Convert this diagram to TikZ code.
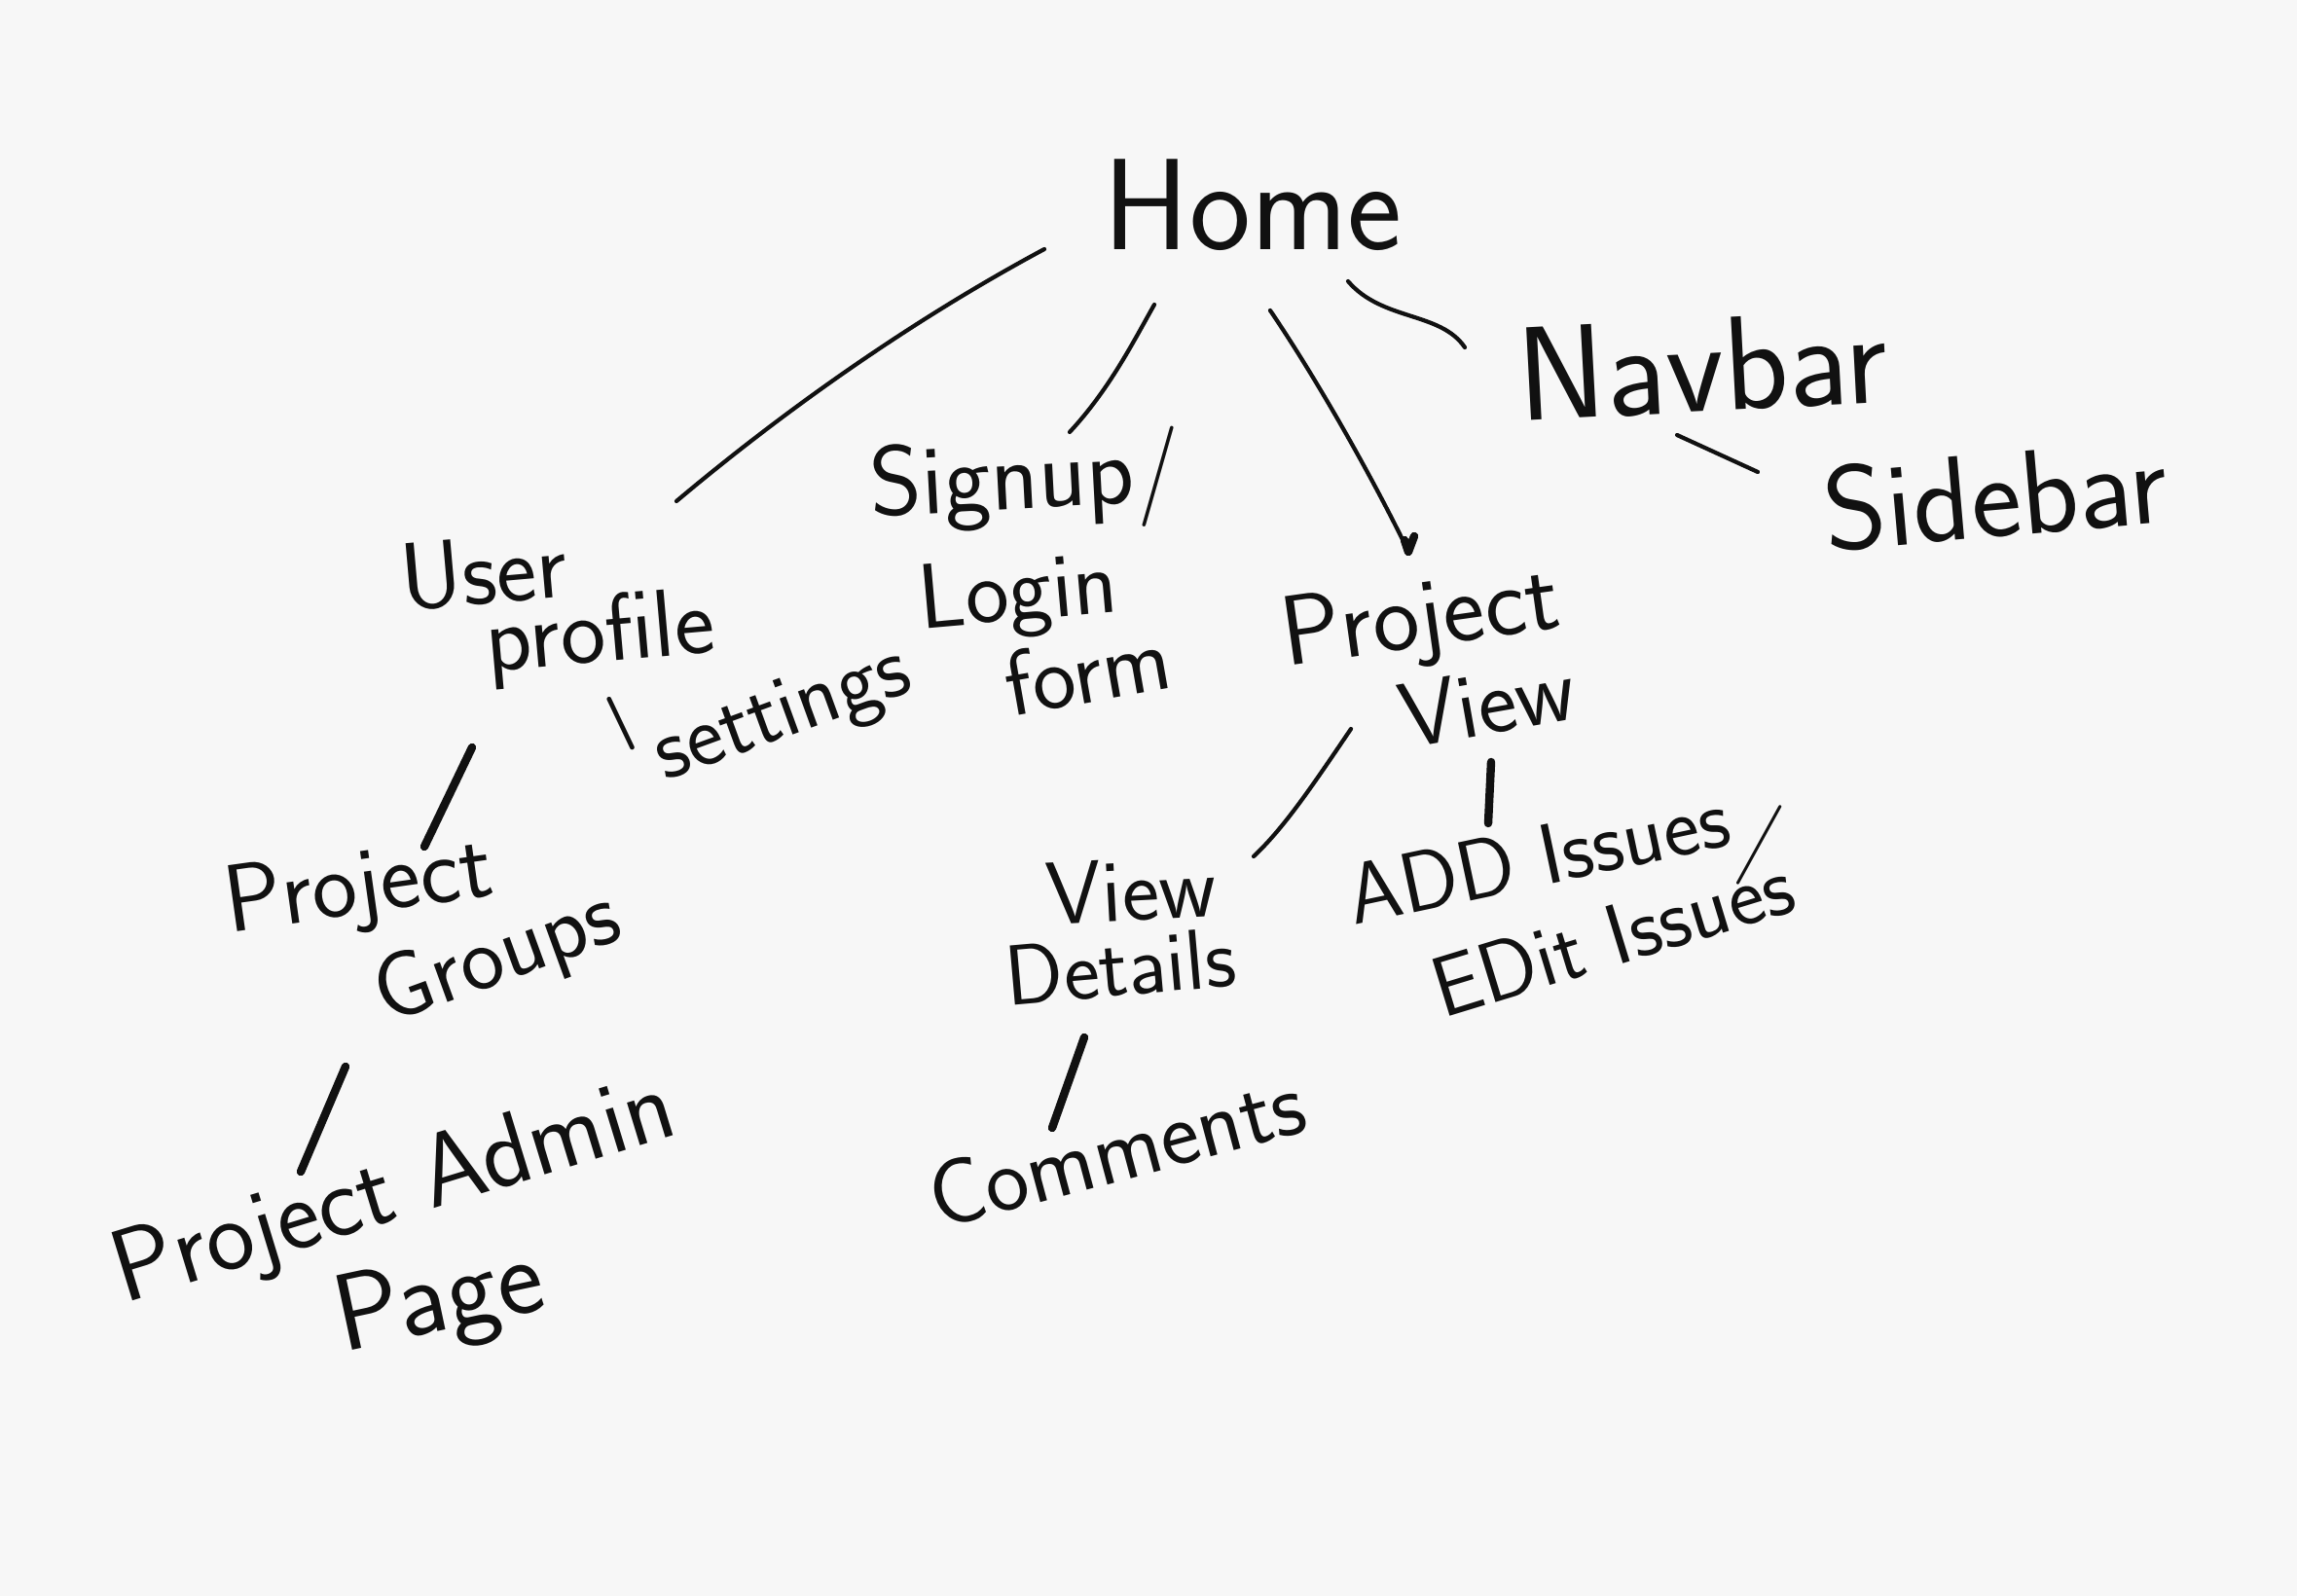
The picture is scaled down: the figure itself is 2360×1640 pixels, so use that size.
\documentclass[tikz,border=0pt]{standalone}
\usepackage{fontspec}
\begin{document}
\begin{tikzpicture}[x=0.01cm,y=-0.01cm,
  hand/.style={font=\sffamily\fontsize{#1}{#1}\selectfont, inner sep=0pt, text=ink},
  link/.style={draw=ink, line width=1.2pt, line cap=round, line join=round},
  boldlink/.style={draw=ink, line width=2.4pt, line cap=round}]
\definecolor{ink}{RGB}{17,17,17}
\definecolor{paper}{RGB}{247,247,247}
\fill[paper] (0,0) rectangle (2360,1640);
\useasboundingbox (0,0) rectangle (2360,1640);
% texts
\node[hand=38pt] (home) at (1287,211) {Home};
\node[hand=39pt, rotate=3] (navbar) at (1749,376) {Navbar};
\node[hand=35pt, rotate=5] (sidebar) at (2050,509) {Sidebar};
\node[hand=28pt, rotate=5] (user) at (497,587) {User};
\node[hand=28pt, rotate=5] (profile) at (617,655) {profile};
\node[hand=16pt, font=\sffamily\bfseries\fontsize{16pt}{16pt}\selectfont, rotate=46] (setslash) at (638,744) {/};
\node[hand=26pt, rotate=20] (settings) at (805,737) {settings};
\node[hand=29pt, rotate=3] (signup) at (1054,497) {Signup/};
\node[hand=27pt, rotate=5] (login) at (1046,614) {Login};
\node[hand=27pt, rotate=10] (form) at (1117,689) {form};
\node[hand=29pt, rotate=8] (pv1) at (1460,640) {Project};
\node[hand=27pt, rotate=10] (pv2) at (1528,722) {View};
\node[hand=28pt, rotate=8] (pg1) at (369,915) {Project};
\node[hand=27pt, rotate=20] (pg2) at (512,986) {Groups};
\node[hand=30pt, rotate=17] (pa1) at (406,1227) {Project Admin};
\node[hand=32pt, rotate=12] (pa2) at (452,1340) {Page};
\node[hand=26pt, rotate=3] (vd1) at (1162,915) {View};
\node[hand=25pt, rotate=5] (vd2) at (1151,993) {Details};
\node[hand=27pt, rotate=15] (comments) at (1147,1181) {Comments};
\node[hand=25pt, rotate=12] (addiss) at (1580,880) {ADD Issues};
\node[hand=25pt, rotate=-10] (issslash) at (1808,868) {/};
\node[hand=25pt, rotate=17] (editiss) at (1657,962) {EDit Issues};
% connector end points
\coordinate (hA) at (1073,256); \coordinate (uA) at (695,515);
\coordinate (hB) at (1186,313); \coordinate (sB) at (1099,444);
\coordinate (hC) at (1305,319); \coordinate (pC) at (1447,567);
\coordinate (hD) at (1385,289); \coordinate (nD) at (1505,357);
\coordinate (nE) at (1723,447); \coordinate (sE) at (1806,485);
\coordinate (uF) at (485,768);  \coordinate (gF) at (436,870);
\coordinate (gG) at (355,1096); \coordinate (aG) at (309,1204);
\coordinate (pH) at (1388,749); \coordinate (vH) at (1288,880);
\coordinate (pI) at (1532,783); \coordinate (iI) at (1529,846);
\coordinate (dJ) at (1114,1066); \coordinate (cJ) at (1081,1159);
% connectors
\draw[link] (hA) .. controls (950,322) and (820,410) .. (uA);
\draw[link] (hB) .. controls (1165,350) and (1140,400) .. (sB);
\draw[link] (hC) .. controls (1360,400) and (1420,510) .. (pC);
\draw[boldlink] (pC) -- ++(-4,-12) (pC) -- ++(6,-16);
\draw[link] (hD) .. controls (1420,330) and (1480,320) .. (nD);
\draw[link] (nE) -- (sE);
\draw[boldlink] (uF) -- (gF);
\draw[boldlink] (gG) -- (aG);
\draw[link] (pH) .. controls (1350,805) and (1320,850) .. (vH);
\draw[boldlink] (pI) -- (iI);
\draw[boldlink] (dJ) -- (cJ);
\end{tikzpicture}
\end{document}
